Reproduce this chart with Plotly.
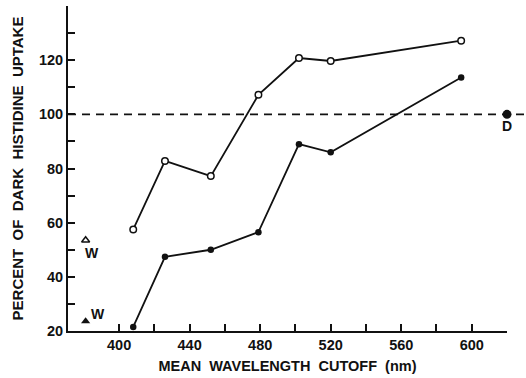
import plotly.graph_objects as go

# Data
wavelength = [408, 426, 452, 479, 502, 520, 594]
open_uptake = [57.5, 82.8, 77.2, 107.2, 120.8, 119.7, 127.2]
filled_uptake = [21.5, 47.4, 50.0, 56.5, 89.0, 86.0, 113.6]

white_x = [381]
white_open = [53.5]
white_filled = [23.6]

dark_x = [620]
dark_y = [100]
reference_level = 100

x_tickvals = [400, 420, 440, 460, 480, 500, 520, 540, 560, 580, 600]
x_ticktext = ["400", "", "440", "", "480", "", "520", "", "560", "", "600"]
y_tickvals = [20, 30, 40, 50, 60, 70, 80, 90, 100, 110, 120, 130]
y_ticktext = ["20", "", "40", "", "60", "", "80", "", "100", "", "120", ""]

x_range = [371, 620]
y_range = [20, 140]

FONT = "Liberation Sans"
BLACK = "#111111"

fig = go.Figure()

fig.add_trace(go.Scatter(
    x=wavelength, y=open_uptake, mode="lines+markers",
    line=dict(color=BLACK, width=1.8),
    marker=dict(symbol="circle", size=6.5, color="white", line=dict(color=BLACK, width=1.5)),
    cliponaxis=False, showlegend=False))

fig.add_trace(go.Scatter(
    x=wavelength, y=filled_uptake, mode="lines+markers",
    line=dict(color=BLACK, width=1.8),
    marker=dict(symbol="circle", size=6.5, color=BLACK),
    cliponaxis=False, showlegend=False))

fig.add_trace(go.Scatter(
    x=white_x, y=white_open, mode="markers",
    marker=dict(symbol="triangle-up", size=7, color="white", line=dict(color=BLACK, width=1.5)),
    cliponaxis=False, showlegend=False))

fig.add_trace(go.Scatter(
    x=white_x, y=white_filled, mode="markers",
    marker=dict(symbol="triangle-up", size=8, color=BLACK),
    cliponaxis=False, showlegend=False))

fig.add_trace(go.Scatter(
    x=dark_x, y=dark_y, mode="markers+text", text=["D"], textposition="bottom center",
    textfont=dict(family=FONT, size=14, color=BLACK, weight="bold"),
    marker=dict(symbol="circle", size=9, color=BLACK),
    cliponaxis=False, showlegend=False))

# dashed reference line at 100 %, extends past the axis end
fig.add_shape(type="line", xref="paper", yref="y", x0=0, x1=1.05,
              y0=reference_level, y1=reference_level,
              line=dict(color=BLACK, width=1.6, dash="8px,6px"))

# W labels
fig.add_annotation(x=white_x[0], y=white_open[0], text="W", showarrow=False,
                   xshift=6, yshift=-13,
                   font=dict(family=FONT, size=14, color=BLACK, weight="bold"))
fig.add_annotation(x=white_x[0], y=white_filled[0], text="W", showarrow=False,
                   xshift=12, yshift=7,
                   font=dict(family=FONT, size=14, color=BLACK, weight="bold"))

fig.update_xaxes(
    range=x_range, showline=True, linecolor=BLACK, linewidth=2,
    tickmode="array", tickvals=x_tickvals, ticktext=x_ticktext,
    ticks="inside", ticklen=7, tickwidth=1.5, tickcolor=BLACK,
    showgrid=False, zeroline=False,
    tickfont=dict(family=FONT, size=14.5, color=BLACK, weight="bold"),
    title=dict(text="MEAN  WAVELENGTH  CUTOFF  (nm)", standoff=8,
               font=dict(family=FONT, size=14.5, color=BLACK, weight="bold")))

fig.update_yaxes(
    range=y_range, showline=True, linecolor=BLACK, linewidth=2,
    tickmode="array", tickvals=y_tickvals, ticktext=y_ticktext,
    ticks="inside", ticklen=7, tickwidth=1.5, tickcolor=BLACK,
    showgrid=False, zeroline=False,
    tickfont=dict(family=FONT, size=14.5, color=BLACK, weight="bold"),
    title=dict(text="PERCENT  OF  DARK  HISTIDINE  UPTAKE", standoff=12,
               font=dict(family=FONT, size=15, color=BLACK, weight="bold")))

fig.update_layout(
    width=526, height=378,
    margin=dict(l=68, r=19, t=6, b=44),
    plot_bgcolor="white", paper_bgcolor="white",
)

fig.write_html("out.html", config={"displayModeBar": False},
               post_script="document.body.style.margin='0';")
